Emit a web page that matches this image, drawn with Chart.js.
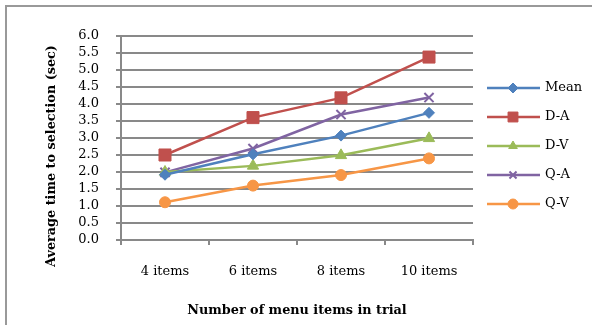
<!DOCTYPE html>
<html>
<head>
<meta charset="utf-8">
<script src="https://cdn.jsdelivr.net/npm/chart.js@4.4.4/dist/chart.umd.min.js"></script>
<style>
  html, body { margin: 0; padding: 0; background: #fff; overflow: hidden; }
  #wrap { position: relative; width: 592px; height: 325px; overflow: hidden; }
  #frameTop { position: absolute; left: 5px; top: 5px; width: 600px; height: 2px; background: #999; }
  #frameLeft { position: absolute; left: 5px; top: 5px; width: 2px; height: 340px; background: #999; }
  canvas { position: absolute; left: 0; top: 0; }
</style>
</head>
<body>
<div id="wrap">
  <div id="frameTop"></div>
  <div id="frameLeft"></div>
  <canvas id="chart" width="592" height="325"></canvas>
</div>
<script>
// Average selection time per menu size.
const categories = ['4 items', '6 items', '8 items', '10 items'];
const seriesNames = ['Mean', 'D-A', 'D-V', 'Q-A', 'Q-V'];
const meanValues = [1.92, 2.52, 3.07, 3.74];
const daValues = [2.5, 3.6, 4.18, 5.38];
const dvValues = [2.0, 2.18, 2.49, 2.99];
const qaValues = [1.99, 2.69, 3.69, 4.19];
const qvValues = [1.11, 1.6, 1.91, 2.4];
const yTicks = [0, 0.5, 1, 1.5, 2, 2.5, 3, 3.5, 4, 4.5, 5, 5.5, 6];
const xTitle = 'Number of menu items in trial';
const yTitle = 'Average time to selection (sec)';

const FONT = '"DejaVu Serif", serif';
const GRID = '#898989';

const styles = [
    { color: '#4F81BD', point: 'rectRot', radius: 5.5 },
    { color: '#C0504D', point: 'rect', radius: 8.5 },
    { color: '#9BBB59', point: 'triangle', radius: 6.5 },
    { color: '#8064A2', point: 'crossRot', radius: 6.5 },
    { color: '#F79646', point: 'circle', radius: 5.5 },
];
const values = [meanValues, daValues, dvValues, qaValues, qvValues];

const datasets = seriesNames.map((name, i) => ({
    label: name,
    data: values[i],
    borderColor: styles[i].color,
    backgroundColor: styles[i].color,
    pointStyle: styles[i].point,
    pointRadius: styles[i].radius,
    pointBorderWidth: styles[i].point === 'crossRot' ? 2 : 1,
    borderWidth: 2.5,
    tension: 0,
}));

// Axis titles and the Excel-like legend on the right, drawn from the datasets.
const extrasPlugin = {
    id: 'extras',
    afterDraw(chart) {
        const { ctx, chartArea } = chart;
        ctx.save();
        ctx.fillStyle = '#000';
        ctx.font = 'bold 12.8px ' + FONT;
        ctx.textAlign = 'center';
        ctx.textBaseline = 'middle';
        ctx.fillText(xTitle, (chartArea.left + chartArea.right) / 2, 311);
        ctx.translate(52, 156);
        ctx.rotate(-Math.PI / 2);
        ctx.fillText(yTitle, 0, 0);
        ctx.restore();

        ctx.save();
        chart.data.datasets.forEach((ds, i) => {
            const y = 88 + i * 29;
            ctx.strokeStyle = ds.borderColor;
            ctx.lineWidth = 2.5;
            ctx.beginPath();
            ctx.moveTo(487, y);
            ctx.lineTo(540, y);
            ctx.stroke();
            ctx.fillStyle = ds.backgroundColor;
            ctx.lineWidth = ds.pointBorderWidth;
            const r = ds.pointStyle === 'rect' ? 7 : 5;
            Chart.helpers.drawPoint(ctx, { pointStyle: ds.pointStyle, radius: r, borderWidth: ds.pointBorderWidth, rotation: 0 }, 513, y);
            ctx.fillStyle = '#000';
            ctx.font = '13px ' + FONT;
            ctx.textAlign = 'left';
            ctx.textBaseline = 'middle';
            ctx.fillText(ds.label, 545, y);
        });
        ctx.restore();
    },
};

new Chart(document.getElementById('chart'), {
    type: 'line',
    data: { labels: categories, datasets },
    options: {
        responsive: false,
        animation: false,
        events: [],
        layout: { padding: { top: 36, right: 119, left: 0, bottom: 0 } },
        plugins: { legend: { display: false }, tooltip: { enabled: false } },
        scales: {
            x: {
                offset: true,
                grid: { drawOnChartArea: false, drawTicks: true, tickLength: 5, color: GRID, lineWidth: 2, offset: true },
                border: { color: GRID, width: 2 },
                ticks: { color: '#000', font: { family: FONT, size: 13 }, padding: 19, maxRotation: 0 },
                afterFit(scale) { scale.height = 85; },
            },
            y: {
                min: 0,
                max: 6,
                afterBuildTicks(scale) { scale.ticks = yTicks.map((v) => ({ value: v })); },
                grid: { color: GRID, lineWidth: 2, tickLength: 5 },
                border: { color: GRID, width: 2 },
                ticks: { color: '#000', font: { family: FONT, size: 13 }, padding: 17, autoSkip: false, callback: (v) => Number(v).toFixed(1) },
                afterFit(scale) { scale.width = 121; },
            },
        },
    },
    plugins: [extrasPlugin],
});
</script>
</body>
</html>
